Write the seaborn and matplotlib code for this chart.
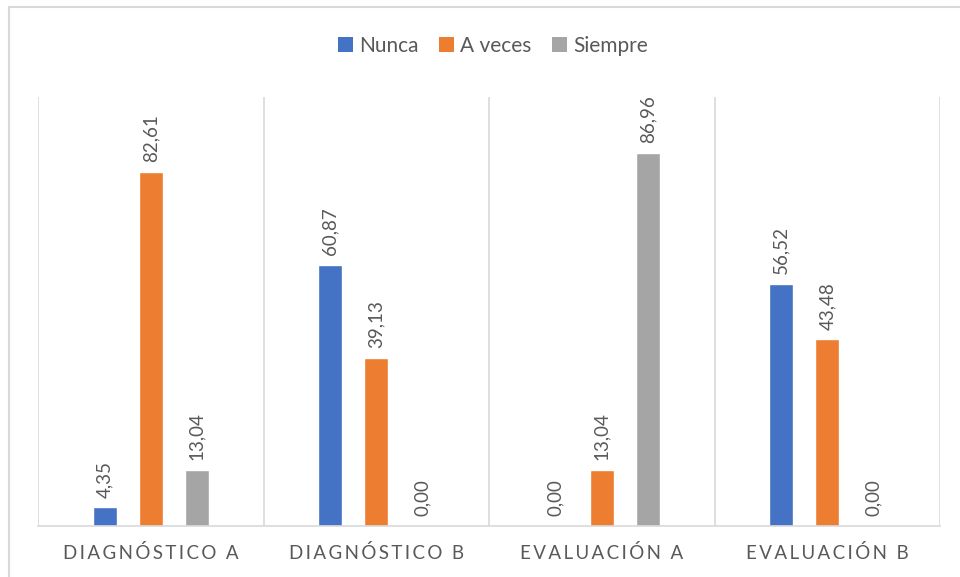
import matplotlib
matplotlib.use("Agg")
import matplotlib.pyplot as plt
import seaborn as sns
import pandas as pd
from matplotlib.patches import Patch
from matplotlib.lines import Line2D

categories = ["DIAGNÓSTICO A", "DIAGNÓSTICO B", "EVALUACIÓN A", "EVALUACIÓN B"]
series_names = ["Nunca", "A veces", "Siempre"]
nunca = [4.35, 60.87, 0.00, 56.52]
a_veces = [82.61, 39.13, 13.04, 43.48]
siempre = [13.04, 0.00, 86.96, 0.00]
colors = ["#4472C4", "#ED7D31", "#A5A5A5"]

rows = []
for name, vals in zip(series_names, [nunca, a_veces, siempre]):
    for c, v in zip(categories, vals):
        rows.append({"cat": c, "serie": name, "val": v})
df = pd.DataFrame(rows)

sns.set_theme(style="white")
plt.rcParams["font.family"] = ["Lato", "DejaVu Sans"]
txt = "#595959"

fig = plt.figure(figsize=(9.6, 5.77), dpi=100)
ax = fig.add_axes([38/960, 1-526/577, (940-38)/960, (526-97)/577])

sns.barplot(data=df, x="cat", y="val", hue="serie", order=categories,
            hue_order=series_names, palette=colors, width=0.612, gap=0.48,
            saturation=1, ax=ax, legend=False)

for cont, vals in zip(ax.containers, [nunca, a_veces, siempre]):
    ax.bar_label(cont, labels=[f"{v:.2f}".replace(".", ",") for v in vals],
                 rotation=90, padding=7, color=txt, fontsize=13.5)

ax.set_ylim(0, 100)
ax.set_xlim(-0.5, 3.5)
for x in [-0.5, 0.5, 1.5, 2.5, 3.5]:
    ax.axvline(x, color="#D9D9D9", lw=1.2, zorder=0)
for s in ["top", "right", "left"]:
    ax.spines[s].set_visible(False)
ax.spines["bottom"].set_color("#D9D9D9")
ax.spines["bottom"].set_linewidth(1.2)
ax.set_yticks([])
ax.set_xlabel("")
ax.set_ylabel("")
spaced = ["\u2009".join(list(c)) for c in categories]
ax.set_xticks(range(len(categories)))
ax.set_xticklabels(spaced, color=txt, fontsize=13.5)
ax.tick_params(axis="x", length=0, pad=13)

handles = [Patch(facecolor=c, edgecolor="none") for c in colors]
fig.legend(handles, series_names, loc="center", bbox_to_anchor=(493/960, 1-46/577),
           ncol=3, frameon=False, fontsize=15, handlelength=0.7, handleheight=0.7,
           handletextpad=0.3, columnspacing=1.0, labelcolor=txt)

# outer chart border (left and top visible)
fig.add_artist(Line2D([9/960, 9/960], [0, 1-7/577], color="#D9D9D9", lw=1.5,
                      transform=fig.transFigure))
fig.add_artist(Line2D([9/960, 1], [1-7/577, 1-7/577], color="#D9D9D9", lw=1.5,
                      transform=fig.transFigure))

fig.savefig("out.png", dpi=100)
